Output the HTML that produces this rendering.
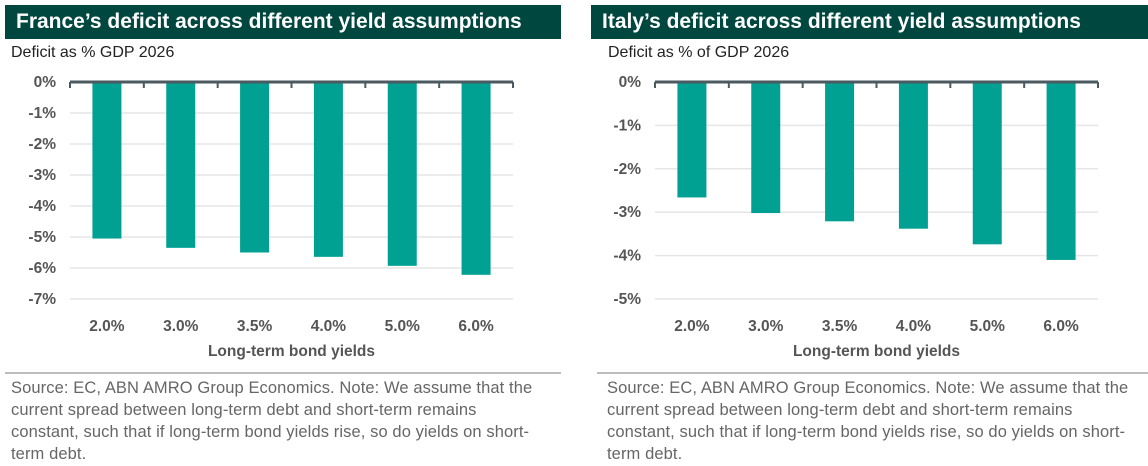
<!DOCTYPE html>
<html><head><meta charset="utf-8"><style>
body{margin:0;width:1148px;height:466px;background:#fff;font-family:"Liberation Sans",sans-serif;overflow:hidden;position:relative}
.title{position:absolute;top:5px;height:34px;background:#00473f;color:#fff;font-weight:bold;font-size:21px;line-height:34px;padding-left:11px;box-sizing:border-box}
.sub{position:absolute;top:44px;font-size:16px;color:#222}
.sep{position:absolute;top:372px;height:2px;background:#bdbdbd}
.note{position:absolute;top:377px;font-size:16.5px;letter-spacing:0.1px;line-height:22px;color:#666;white-space:nowrap}
svg{position:absolute;left:0;top:0}
</style></head><body>
<div class="title" style="left:5px;width:556px">France’s deficit across different yield assumptions</div>
<div class="sub" style="left:11px">Deficit as % GDP 2026</div>
<div class="title" style="left:591px;width:557px">Italy’s deficit across different yield assumptions</div>
<div class="sub" style="left:608px">Deficit as % of GDP 2026</div>
<div class="sep" style="left:5px;width:556px"></div>
<div class="sep" style="left:597px;width:551px"></div>
<div class="note" style="left:11px">Source: EC, ABN AMRO Group Economics. Note: We assume that the<br>current spread between long-term debt and short-term remains<br>constant, such that if long-term bond yields rise, so do yields on short-<br>term debt.</div>
<div class="note" style="left:607px">Source: EC, ABN AMRO Group Economics. Note: We assume that the<br>current spread between long-term debt and short-term remains<br>constant, such that if long-term bond yields rise, so do yields on short-<br>term debt.</div>
<svg id="svg" width="1148" height="466"></svg>
<script>
const categories=["2.0%","3.0%","3.5%","4.0%","5.0%","6.0%"];
const franceValues=[-5.05,-5.35,-5.5,-5.64,-5.93,-6.22];
const italyValues=[-2.66,-3.02,-3.21,-3.38,-3.74,-4.1];
const franceTicks=[0,-1,-2,-3,-4,-5,-6,-7];
const italyTicks=[0,-1,-2,-3,-4,-5];
const NS="http://www.w3.org/2000/svg";
const svg=document.getElementById('svg');
function mk(t,a){const e=document.createElementNS(NS,t);for(const k in a)e.setAttribute(k,a[k]);svg.appendChild(e);return e;}
function chart(prefix,x0,x1,values,ticks){
  const y0=82,y1=299,min=ticks[ticks.length-1];
  const ys=v=>y0+(v/min)*(y1-y0);
  const step=(x1-x0)/categories.length;
  const xs=i=>x0+step*(i+0.5);
  ticks.forEach(t=>{
    if(t!==0){const g=mk('line',{x1:x0,x2:x1,y1:ys(t),y2:ys(t),stroke:'#e6e6e6','stroke-width':1.5});
    
    }
    const l=mk('text',{x:x0-14,y:ys(t)+5,'text-anchor':'end','font-size':15.5,'font-weight':'bold',fill:'#555'});
    l.textContent=t+'%';
    
    
  });
  values.forEach((v,i)=>{
    const r=mk('rect',{x:xs(i)-14.5,y:y0,width:29,height:ys(v)-y0,fill:'#00a092'});
    
    
    const l=mk('text',{x:xs(i),y:331,'text-anchor':'middle','font-size':15.5,'font-weight':'bold',fill:'#555'});
    l.textContent=categories[i];
    
    
  });
  const ax=mk('line',{x1:x0,x2:x1,y1:y0,y2:y0,stroke:'#4b5a60','stroke-width':3});
  
  
  for(let i=0;i<=categories.length;i++){
    const t=mk('line',{x1:x0+step*i,x2:x0+step*i,y1:y0,y2:y0+6,stroke:'#4b5a60','stroke-width':2});
    
    
  }
  const at=mk('text',{x:(x0+x1)/2,y:356,'text-anchor':'middle','font-size':15.5,'font-weight':'bold',fill:'#555'});
  at.textContent='Long-term bond yields';
  
  
}
chart('france',70,513,franceValues,franceTicks);
chart('italy',655,1098,italyValues,italyTicks);
</script>
</body></html>
